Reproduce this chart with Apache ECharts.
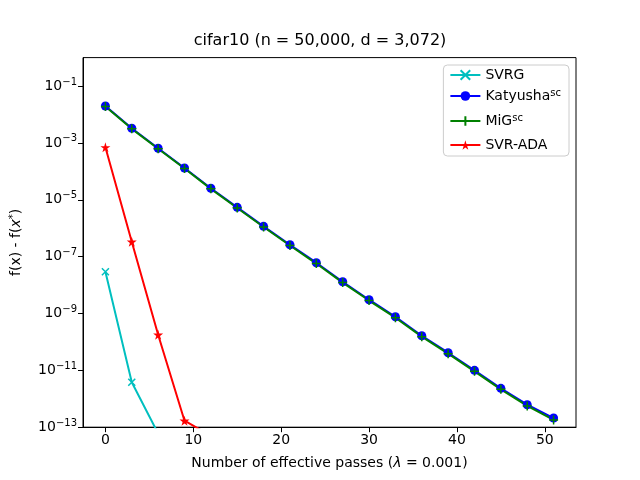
<!DOCTYPE html>
<html>
<head>
<meta charset="UTF-8">
<script type="text/javascript" src="https://cdn.jsdelivr.net/npm/echarts@6/dist/echarts.min.js"></script>
<title>cifar10</title>
<style>
	html, body { margin: 0; padding: 0; background: #fff; }
	#main { width: 640px; height: 480px; }
</style>
<script>
	// effective passes (x) for each method
	var passes = [0, 3, 6, 9, 12, 15, 18, 21, 24, 27, 30, 33, 36, 39, 42, 45, 48, 51];
	var svrgPasses = [0, 3, 6];
	var adaPasses = [0, 3, 6, 9, 12];

	// f(x) - f(x*)
	var svrgVals = [2.94e-8, 3.8e-12, 6.0e-14];
	var katyushaVals = [1.99e-2, 3.26e-3, 6.46e-4, 1.31e-4, 2.53e-5, 5.42e-6, 1.16e-6, 2.62e-7, 6.11e-8,
		1.31e-8, 3.05e-9, 7.69e-10, 1.65e-10, 4.17e-11, 1.0e-11, 2.33e-12, 6.18e-13, 2.10e-13];
	var migVals = [1.92e-2, 3.12e-3, 6.2e-4, 1.25e-4, 2.42e-5, 5.15e-6, 1.1e-6, 2.46e-7, 5.7e-8,
		1.22e-8, 2.85e-9, 7.1e-10, 1.53e-10, 3.85e-11, 9.2e-12, 2.15e-12, 5.6e-13, 1.8e-13];
	var adaVals = [7.0e-4, 3.34e-7, 1.79e-10, 1.69e-13, 5.0e-14];

	var xTicks = [0, 10, 20, 30, 40, 50];
	var yTicks = [1e-13, 1e-11, 1e-9, 1e-7, 1e-5, 1e-3, 1e-1];

	function pairs(xs, ys) {
		var out = [];
		for (var i = 0; i < xs.length; i++) out.push([xs[i], ys[i]]);
		return out;
	}

	var SYM_X = 'path://M0,0L10,10M10,0L0,10';
	var SYM_PLUS = 'path://M5,0L5,10M0,5L10,5';
	var SYM_STAR = 'path://M50,0L61,35L98,35L68,57L79,91L50,70L21,91L32,57L2,35L39,35Z';

	var FONT = 'DejaVu Sans';
</script>
</head>
<body>
<div id="main"></div>
<script>
	var chart = echarts.init(document.getElementById('main'), null, { renderer: 'canvas' });

	function lineSeries(name, data, color, symbol, size, stroke) {
		return {
			name: name,
			type: 'line',
			data: data,
			symbol: symbol,
			symbolSize: size,
			showAllSymbol: true,
			clip: true,
			lineStyle: { color: color, width: 2 },
			itemStyle: { color: color, borderColor: color, borderWidth: stroke },
			emphasis: { disabled: true }
		};
	}

	chart.setOption({
		animation: false,
		textStyle: { fontFamily: FONT },
		title: {
			text: 'cifar10 (n = 50,000, d = 3,072)',
			left: 'center',
			top: 33,
			padding: [0, 0, 0, 16],
			textStyle: { fontFamily: FONT, fontSize: 16, fontWeight: 'normal', color: '#000' }
		},
		legend: {
			orient: 'vertical',
			right: 71,
			top: 65,
			itemWidth: 30,
			itemHeight: 12,
			itemGap: 6,
			padding: [3, 8, 4, 6],
			borderColor: '#cccccc',
			borderWidth: 1,
			borderRadius: 4,
			backgroundColor: '#ffffff',
			data: ['SVRG', 'Katyusha', 'MiG', 'SVR-ADA'],
			formatter: function (name) {
				if (name === 'Katyusha' || name === 'MiG') return '{n|' + name + '}{s|sc}';
				return '{n|' + name + '}';
			},
			textStyle: {
				fontFamily: FONT, fontSize: 14, color: '#000',
				rich: {
					n: { fontFamily: FONT, fontSize: 14, color: '#000', lineHeight: 16 },
					s: { fontFamily: FONT, fontSize: 10, color: '#000', verticalAlign: 'top', lineHeight: 16, padding: [0, 0, 9, 0] }
				}
			}
		},
		grid: {
			left: 80, right: 64, top: 57.6, bottom: 52.8,
			show: true, borderColor: '#000', borderWidth: 1, backgroundColor: 'transparent'
		},
		xAxis: {
			type: 'value',
			min: -2.55,
			max: 53.55,
			name: 'Number of effective passes ({i|λ} = 0.001)',
			nameLocation: 'middle',
			nameGap: 29,
			nameTextStyle: {
				fontFamily: FONT, fontSize: 14, color: '#000',
				rich: { i: { fontFamily: FONT, fontSize: 14, fontStyle: 'italic', color: '#000' } }
			},
			axisLine: { onZero: false, lineStyle: { color: '#000', width: 1 } },
			axisTick: { show: true, length: 5, lineStyle: { color: '#000' }, customValues: xTicks },
			axisLabel: { fontFamily: FONT, fontSize: 14, color: '#000', margin: 6, customValues: xTicks },
			splitLine: { show: false }
		},
		yAxis: {
			type: 'log',
			logBase: 10,
			min: 1e-13,
			max: 1,
			name: 'f(x) - f({i|x}{s|*})',
			nameLocation: 'middle',
			nameRotate: 90,
			nameGap: 58,
			nameTextStyle: {
				fontFamily: FONT, fontSize: 14, color: '#000',
				rich: {
					i: { fontFamily: FONT, fontSize: 14, fontStyle: 'italic', color: '#000' },
					s: { fontFamily: FONT, fontSize: 10, color: '#000', verticalAlign: 'top', padding: [0, 0, 7, 0] }
				}
			},
			axisLine: { onZero: false, lineStyle: { color: '#000', width: 1 } },
			axisTick: { show: true, length: 5, lineStyle: { color: '#000' }, customValues: yTicks },
			minorTick: { show: false },
			axisLabel: {
				customValues: yTicks,
				margin: 6,
				formatter: function (v) {
					var e = Math.round(Math.log(v) / Math.LN10);
					return '{b|10}{s|' + (e < 0 ? '\u2212' + (-e) : e) + '}';
				},
				rich: {
					b: { fontFamily: FONT, fontSize: 14, color: '#000', lineHeight: 18 },
					s: { fontFamily: FONT, fontSize: 10, color: '#000', verticalAlign: 'top', lineHeight: 18, padding: [0, 0, 9, 0] }
				}
			},
			splitLine: { show: false }
		},
		series: [
			lineSeries('SVRG', pairs(svrgPasses, svrgVals), '#00bfbf', SYM_X, 7, 1.5),
			lineSeries('Katyusha', pairs(passes, katyushaVals), '#0000ff', 'circle', 9, 0),
			lineSeries('MiG', pairs(passes, migVals), '#008000', SYM_PLUS, 9, 1.5),
			lineSeries('SVR-ADA', pairs(adaPasses, adaVals), '#ff0000', SYM_STAR, 10, 0)
		]
	});
</script>
</body>
</html>
